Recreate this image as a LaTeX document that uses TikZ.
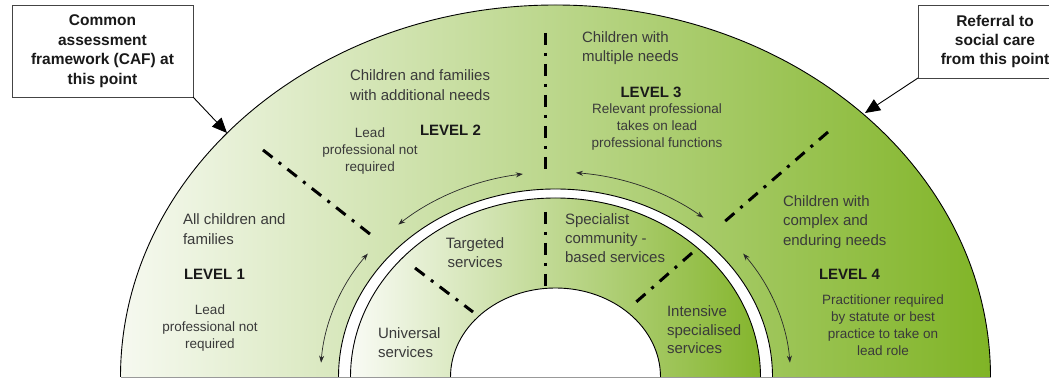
\documentclass[tikz,border=0pt]{standalone}
\usepackage{fontspec}
\setmainfont{Liberation Sans}
\usetikzlibrary{arrows.meta,calc}
\definecolor{txt}{HTML}{3A3A3A}
\definecolor{boxline}{HTML}{444444}
\definecolor{arrowc}{HTML}{2A2A2A}
\definecolor{gL}{HTML}{F6F9F0}
\definecolor{gM}{HTML}{C2D89A}
\definecolor{gR}{HTML}{80B426}
\definecolor{iL}{HTML}{F9FBF5}
\definecolor{iM}{HTML}{BCD68C}
\definecolor{iR}{HTML}{84B52C}
\begin{document}
\begin{tikzpicture}[x=1pt,y=1pt,
  every node/.style={inner sep=0pt, outer sep=0pt, text=txt},
  desc/.style={font=\fontsize{15}{19.5}\selectfont, align=left},
  small/.style={font=\fontsize{13.5}{17}\selectfont, align=center},
  lvl/.style={font=\fontsize{15}{18}\selectfont\bfseries, text=black!90},
  boxtxt/.style={draw=boxline, line width=0.8pt, fill=white, font=\fontsize{15.5}{19.5}\selectfont\bfseries, align=center, text=black!90},
  divider/.style={line width=3pt, dash pattern=on 12pt off 8pt on 3pt off 8pt},
  ring/.style={draw=black, line width=0.9pt},
  flow/.style={{Stealth[length=7pt,width=5pt]}-{Stealth[length=7pt,width=5pt]}, line width=0.7pt, draw=arrowc},
  callout/.style={-{Triangle[length=15pt,width=13pt]}, line width=0.9pt, draw=black},
]
\useasboundingbox (0,0) rectangle (1049,379);
\coordinate (C) at (555.5,2);
% outer ring
\shade[left color=gL, middle color=gM, right color=gR] ($(C)+(180:435 and 372)$) arc[start angle=180,end angle=0,x radius=435,y radius=372] -- cycle;
\draw[ring] ($(C)+(180:435 and 372)$) arc[start angle=180,end angle=0,x radius=435,y radius=372];
% white band
\fill[white] ($(C)+(180:217 and 188)$) arc[start angle=180,end angle=0,x radius=217,y radius=188] -- cycle;
\draw[ring] ($(C)+(180:217 and 188)$) arc[start angle=180,end angle=0,x radius=217,y radius=188];
% inner ring
\shade[left color=iL, middle color=iM, right color=iR] ($(C)+(180:205 and 179)$) arc[start angle=180,end angle=0,x radius=205,y radius=179] -- cycle;
\draw[ring] ($(C)+(180:205 and 179)$) arc[start angle=180,end angle=0,x radius=205,y radius=179];
% hole
\fill[white] ($(C)+(180:105 and 89)$) arc[start angle=180,end angle=0,x radius=105,y radius=89] -- cycle;
\draw[ring] ($(C)+(180:105 and 89)$) arc[start angle=180,end angle=0,x radius=105,y radius=89];
% base line
\draw[gray!80, line width=1pt] ($(C)+(-435,-0.5)$) -- ($(C)+(435,-0.5)$);

% dividers
\draw[divider] (263,229) -- (375,141);
\draw[divider] (415,111) -- (473,67);
\draw[divider] (545,346) -- (545,209);
\draw[divider] (545,167) -- (545,92);
\draw[divider] (828,247) -- (723,156);
\draw[divider] (692,126) -- (635,76);

% flow arrows
\draw[flow] ($(C)+(176:235 and 205)$) arc[start angle=176,end angle=143,x radius=235,y radius=205];
\draw[flow] ($(C)+(132:235 and 205)$) arc[start angle=132,end angle=98,x radius=235,y radius=205];
\draw[flow] ($(C)+(85:235 and 205)$) arc[start angle=85,end angle=51,x radius=235,y radius=205];
\draw[flow] ($(C)+(37:235 and 205)$) arc[start angle=37,end angle=4,x radius=235,y radius=205];

% level 1
\node[desc, anchor=west] (l1d) at (183,150) {All children and\\families};
\node[lvl, anchor=west] (l1) at (184,105) {LEVEL 1};
\node[small] (l1s) at (210,51) {Lead\\professional not\\required};
% level 2
\node[desc, anchor=west] (l2d) at (350,294) {Children and families\\with additional needs};
\node[lvl, anchor=west] (l2) at (420,249) {LEVEL 2};
\node[small] (l2s) at (370,228) {Lead\\professional not\\required};
% level 3
\node[desc, anchor=west] (l3d) at (582,331) {Children with\\multiple needs};
\node[lvl] (l3) at (651,287) {LEVEL 3};
\node[small] (l3s) at (657,252) {Relevant professional\\takes on lead\\professional functions};
% level 4
\node[desc, anchor=west] (l4d) at (783,157) {Children with\\complex and\\enduring needs};
\node[lvl, anchor=west] (l4) at (819,105) {LEVEL 4};
\node[small] (l4s) at (883,54) {Practitioner required\\by statute or best\\practice to take on\\lead role};
% services
\node[desc, anchor=west, font=\fontsize{15}{19}\selectfont] (s1) at (378,36) {Universal\\services};
\node[desc, align=center, font=\fontsize{15}{19}\selectfont] (s2) at (475,126) {Targeted\\services};
\node[desc, anchor=west, font=\fontsize{15}{19}\selectfont] (s3) at (565,141) {Specialist\\community -\\based services};
\node[desc, anchor=west, font=\fontsize{15}{18.5}\selectfont] (s4) at (667,49) {Intensive\\specialised\\services};

% callout boxes
\node[boxtxt, minimum width=181pt, minimum height=92pt] (caf) at (102.5,328) {Common\\assessment\\framework (CAF) at\\this point};
\coordinate (caftip) at (227,246);
\draw[callout] (caf.south east) -- (caftip);
\node[boxtxt, minimum width=154pt, minimum height=73pt] (ref) at (995,337.5) {Referral to\\social care\\from this point};
\coordinate (reftip) at (865,266);
\draw[callout] (ref.south west) -- (reftip);
\end{tikzpicture}
\end{document}
